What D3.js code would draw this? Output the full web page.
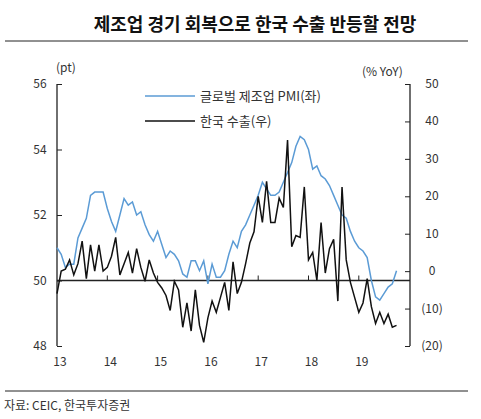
<!DOCTYPE html><html><head><meta charset="utf-8"><script src="https://cdn.jsdelivr.net/npm/d3@7"></script>
<style>body{margin:0;background:#fff}text{font-family:"Noto Sans CJK KR","Noto Sans",sans-serif}</style></head><body><svg id="c" width="481" height="419"></svg><script>
const pmi=[51.0,50.8,50.4,50.5,50.5,51.3,51.6,51.9,52.6,52.7,52.7,52.7,52.2,51.8,51.5,52.0,52.5,52.3,52.4,52.0,52.1,51.7,51.4,51.2,51.5,51.1,50.7,50.9,50.8,50.6,50.2,50.1,50.6,50.6,50.3,50.6,49.9,50.5,50.1,50.1,50.3,50.8,51.2,51.0,51.5,51.7,52.0,52.3,52.6,53.0,52.8,52.6,52.6,52.7,53.0,53.3,53.6,54.1,54.4,54.3,54.0,53.4,53.5,53.2,53.1,52.9,52.6,52.3,52.0,51.9,51.5,51.2,51.0,50.9,50.7,50.0,49.5,49.4,49.6,49.8,49.9,50.3];
const exp=[-6,0,0.5,3,-1,2,8,-2,7,0,7,0,1,4,9,-1,2,5,-0.5,6,1,-2.7,3,-0.5,-3,-4.5,-6.5,-10.5,-2.7,-5,-15,-8.5,-16,-5,-14.5,-19,-12.5,-8,-11,-7,-3,-10.5,2.5,-6,-3,2,7.5,10.5,20,13,24,13,13,19.5,17,35,6.5,9.5,9,22.5,3,5,-2.5,13,-0.5,6,8.5,-8,22.5,3,-3,-7,-11,-8.5,-2,-9.5,-14,-11,-14,-11.5,-15,-14.5];
const years=["13","14","15","16","17","18","19"];
const leftTicks=[48,50,52,54,56], rightTicks=[-20,-10,0,10,20,30,40,50];
const svg=d3.select("#c");
const x=d3.scaleLinear().domain([0,12]).range([57,107.3]);
const yl=d3.scaleLinear().domain([48,56]).range([346,84]);
const yr=d3.scaleLinear().domain([-20,50]).range([346,84]);
svg.append("text").attr("x",255).attr("y",31).attr("text-anchor","middle").attr("font-size",18).attr("font-weight","bold").attr("fill","#111").text("제조업 경기 회복으로 한국 수출 반등할 전망");
svg.append("line").attr("x1",5).attr("x2",468).attr("y1",41).attr("y2",41).attr("stroke","#222");
svg.append("line").attr("x1",5).attr("x2",468).attr("y1",391).attr("y2",391).attr("stroke","#222");
svg.append("text").attr("x",4).attr("y",410).attr("font-size",12).attr("fill","#333").text("자료: CEIC, 한국투자증권");
svg.append("text").attr("x",56).attr("y",72).attr("font-size",12).attr("fill","#333").text("(pt)");
svg.append("text").attr("x",362).attr("y",76).attr("font-size",12).attr("fill","#333").text("(% YoY)");
const la=svg.append("g").attr("transform","translate(57,0)").call(d3.axisRight(yl).tickValues(leftTicks).tickSize(5).tickFormat(""));
const ra=svg.append("g").attr("transform","translate(410,0)").call(d3.axisLeft(yr).tickValues(rightTicks).tickSize(5).tickFormat(""));
[la,ra].forEach(g=>{g.select(".domain").remove();g.selectAll("line").attr("stroke","#222")});
svg.append("line").attr("x1",57).attr("x2",57).attr("y1",84).attr("y2",346).attr("stroke","#222").attr("stroke-width",1.3);
svg.append("line").attr("x1",410).attr("x2",410).attr("y1",84).attr("y2",346).attr("stroke","#222").attr("stroke-width",1.3);
svg.selectAll(".lt").data(leftTicks).join("text").attr("x",40).attr("y",d=>yl(d)+4).attr("text-anchor","middle").attr("font-size",12).attr("fill","#333").text(d=>d);
svg.selectAll(".rt").data(rightTicks).join("text").attr("x",432).attr("y",d=>yr(d)+4).attr("text-anchor","middle").attr("font-size",12).attr("fill","#333").text(d=>d<0?"("+(-d)+")":d);
svg.selectAll(".xt").data(years).join("text").attr("x",(d,i)=>x(i*12)+3).attr("y",366).attr("text-anchor","middle").attr("font-size",12).attr("fill","#333").text(d=>d);
svg.append("line").attr("x1",57).attr("x2",410).attr("y1",yl(50)).attr("y2",yl(50)).attr("stroke","#222").attr("stroke-width",1.5);
svg.selectAll(".xk").data(years.slice(1)).join("line").attr("x1",(d,i)=>x((i+1)*12)).attr("x2",(d,i)=>x((i+1)*12)).attr("y1",yl(50)).attr("y2",yl(50)-5).attr("stroke","#222");
svg.append("path").datum(pmi).attr("fill","none").attr("stroke","#5b9bd5").attr("stroke-width",1.5).attr("d",d3.line().x((d,i)=>x(i)).y(d=>yl(d)));
svg.append("path").datum(exp).attr("fill","none").attr("stroke","#111").attr("stroke-width",1.5).attr("d",d3.line().x((d,i)=>x(i)).y(d=>yr(d)));
const lg=[["글로벌 제조업 PMI(좌)","#5b9bd5"],["한국 수출(우)","#111"]];
lg.forEach((l,i)=>{const yy=96+i*25;svg.append("line").attr("x1",145).attr("x2",195).attr("y1",yy).attr("y2",yy).attr("stroke",l[1]).attr("stroke-width",1.5);
svg.append("text").attr("x",200).attr("y",yy+5).attr("font-size",13).attr("fill","#333").text(l[0]);});
</script></body></html>
